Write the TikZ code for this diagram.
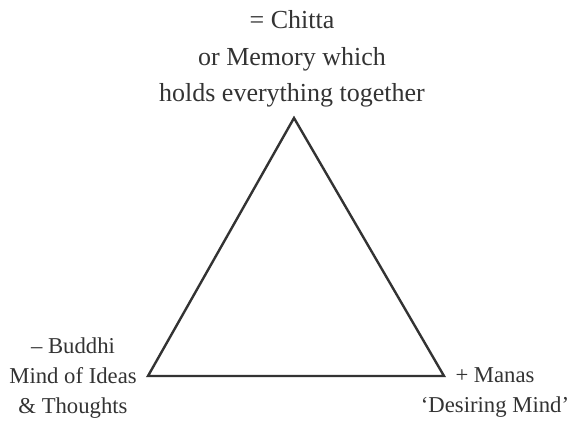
\documentclass[tikz,border=0pt]{standalone}
\usepackage{fontspec}
\setmainfont{Liberation Serif}
\usepackage{tikz}
\usetikzlibrary{positioning}

\begin{document}
\begin{tikzpicture}[x=1pt,y=1pt,
  side/.style={line width=2.4pt,black!80,line join=miter},
  big/.style={align=center,inner sep=0pt,text=black!80,font=\fontsize{26}{36.5}\selectfont},
  small/.style={align=center,inner sep=0pt,text=black!80,font=\fontsize{22.7}{30}\selectfont}]
\useasboundingbox (0,0) rectangle (573,423);
\coordinate (apex) at (294,305);\coordinate (L) at (148,47);\coordinate (R) at (444,47);
\draw[side] (apex)--(R)--(L)--cycle;
\node[big,anchor=north] (chitta) at (292,412.5) {= Chitta\\or Memory which\\holds everything together};
\node[small,anchor=north] (buddhi) at (73,85.5) {– Buddhi\\Mind of Ideas\\\& Thoughts};
\node[small,anchor=north] (manas) at (495,55.5) {+ Manas\\‘Desiring Mind’};
\end{tikzpicture}
\end{document}
